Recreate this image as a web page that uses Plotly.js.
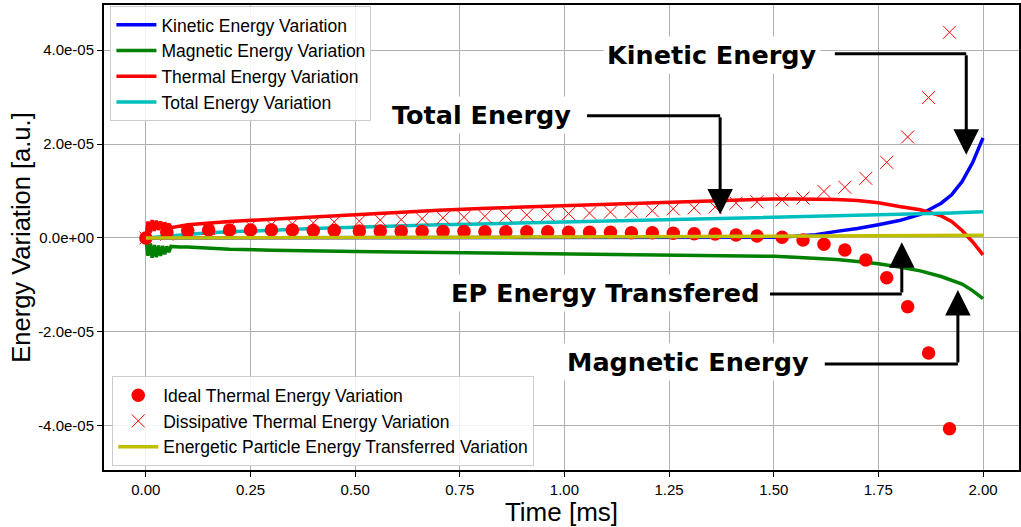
<!DOCTYPE html>
<html>
<head>
<meta charset="utf-8">
<script src="https://cdn.plot.ly/plotly-3.0.1.min.js"></script>
<style>html,body{margin:0;padding:0;background:#fff;}#chart{width:1021px;height:527px;}</style>
</head>
<body>
<div id="chart"></div>
<script>
// ---- data (energy variation, a.u.; time in ms) ----
const timeLine = [0, 0.005, 0.01, 0.015, 0.02, 0.025, 0.03, 0.035, 0.04, 0.045, 0.05, 0.055, 0.06, 0.07, 0.08,
  0.1, 0.15, 0.2, 0.3, 0.4, 0.5, 0.6, 0.7, 0.8, 0.9, 1.0, 1.1, 1.2, 1.3, 1.4, 1.5, 1.55, 1.6, 1.65, 1.7, 1.75,
  1.8, 1.85, 1.9, 1.925, 1.95, 1.975, 2.0];

const kinetic = [0, 0, 0, 0, 0, 0, 0, 0, 0, 0, 0, 0, 0, 0, 0,
  0, 0, 0, 0, 0, 0, 0, 0, 0, 0, 0, 0, 0, 0.001e-5, 0.005e-5, 0.015e-5, 0.035e-5, 0.07e-5, 0.14e-5, 0.2e-5, 0.28e-5,
  0.37e-5, 0.5e-5, 0.74e-5, 0.92e-5, 1.2e-5, 1.6e-5, 2.13e-5];

const magnetic = [0, -0.38e-5, -0.12e-5, -0.42e-5, -0.15e-5, -0.41e-5, -0.16e-5, -0.38e-5, -0.17e-5, -0.35e-5, -0.18e-5, -0.3e-5, -0.18e-5, -0.19e-5, -0.19e-5,
  -0.19e-5, -0.22e-5, -0.24e-5, -0.26e-5, -0.28e-5, -0.29e-5, -0.3e-5, -0.31e-5, -0.31e-5, -0.32e-5, -0.33e-5, -0.34e-5, -0.35e-5, -0.36e-5, -0.37e-5, -0.39e-5, -0.41e-5, -0.43e-5, -0.46e-5, -0.5e-5, -0.55e-5,
  -0.62e-5, -0.7e-5, -0.82e-5, -0.9e-5, -0.98e-5, -1.12e-5, -1.29e-5];

const thermal = [0, 0.35e-5, 0.12e-5, 0.38e-5, 0.15e-5, 0.37e-5, 0.17e-5, 0.35e-5, 0.19e-5, 0.33e-5, 0.21e-5, 0.3e-5, 0.22e-5, 0.24e-5, 0.25e-5,
  0.28e-5, 0.32e-5, 0.35e-5, 0.4e-5, 0.45e-5, 0.5e-5, 0.55e-5, 0.59e-5, 0.63e-5, 0.66e-5, 0.69e-5, 0.72e-5, 0.75e-5, 0.78e-5, 0.81e-5, 0.83e-5, 0.83e-5, 0.83e-5, 0.82e-5, 0.8e-5, 0.75e-5,
  0.67e-5, 0.6e-5, 0.47e-5, 0.35e-5, 0.16e-5, -0.08e-5, -0.36e-5];

const total = [0, 0.004e-5, 0.008e-5, 0.012e-5, 0.016e-5, 0.02e-5, 0.024e-5, 0.028e-5, 0.032e-5, 0.036e-5, 0.04e-5, 0.044e-5, 0.048e-5, 0.056e-5, 0.064e-5,
  0.08e-5, 0.11e-5, 0.13e-5, 0.17e-5, 0.2e-5, 0.23e-5, 0.26e-5, 0.28e-5, 0.3e-5, 0.32e-5, 0.34e-5, 0.35e-5, 0.37e-5, 0.39e-5, 0.41e-5, 0.43e-5, 0.44e-5, 0.45e-5, 0.46e-5, 0.47e-5, 0.48e-5,
  0.49e-5, 0.5e-5, 0.52e-5, 0.53e-5, 0.54e-5, 0.55e-5, 0.56e-5];

const epTransferred = [0, 0, 0, 0, 0, 0, 0, 0, 0, 0, 0, 0, 0, 0, 0,
  0, 0.002e-5, 0.004e-5, 0.006e-5, 0.008e-5, 0.01e-5, 0.012e-5, 0.014e-5, 0.016e-5, 0.018e-5, 0.02e-5, 0.023e-5, 0.026e-5, 0.029e-5, 0.032e-5, 0.035e-5, 0.037e-5, 0.039e-5, 0.041e-5, 0.043e-5, 0.046e-5,
  0.049e-5, 0.052e-5, 0.055e-5, 0.056e-5, 0.057e-5, 0.058e-5, 0.06e-5];

const timeMarkers = [0, 0.05, 0.10, 0.15, 0.20, 0.25, 0.30, 0.35, 0.40, 0.45, 0.51, 0.56, 0.61, 0.66, 0.71, 0.76,
  0.81, 0.86, 0.91, 0.96, 1.01, 1.06, 1.11, 1.16, 1.21, 1.26, 1.31, 1.36, 1.41, 1.46, 1.52, 1.57, 1.62, 1.67,
  1.72, 1.77, 1.82, 1.87, 1.92];

const idealThermal = [0, 0.12e-5, 0.16e-5, 0.17e-5, 0.17e-5, 0.17e-5, 0.17e-5, 0.17e-5, 0.16e-5, 0.16e-5, 0.15e-5, 0.15e-5, 0.14e-5, 0.14e-5, 0.14e-5, 0.14e-5,
  0.13e-5, 0.13e-5, 0.13e-5, 0.13e-5, 0.12e-5, 0.12e-5, 0.12e-5, 0.11e-5, 0.11e-5, 0.1e-5, 0.09e-5, 0.085e-5, 0.065e-5, 0.043e-5, 0.015e-5, -0.043e-5, -0.135e-5, -0.256e-5,
  -0.47e-5, -0.847e-5, -1.466e-5, -2.448e-5, -4.06e-5];

const dissipativeThermal = [0, 0.08e-5, 0.15e-5, 0.2e-5, 0.23e-5, 0.26e-5, 0.28e-5, 0.3e-5, 0.32e-5, 0.34e-5, 0.36e-5, 0.38e-5, 0.39e-5, 0.41e-5, 0.43e-5, 0.44e-5,
  0.46e-5, 0.47e-5, 0.49e-5, 0.5e-5, 0.52e-5, 0.53e-5, 0.55e-5, 0.57e-5, 0.58e-5, 0.62e-5, 0.64e-5, 0.66e-5, 0.74e-5, 0.77e-5, 0.81e-5, 0.85e-5, 0.99e-5, 1.08e-5,
  1.27e-5, 1.61e-5, 2.15e-5, 2.99e-5, 4.38e-5];

const xTickVals = [0, 0.25, 0.5, 0.75, 1.0, 1.25, 1.5, 1.75, 2.0];
const xTickText = ['0.00', '0.25', '0.50', '0.75', '1.00', '1.25', '1.50', '1.75', '2.00'];
const yTickVals = [-4e-5, -2e-5, 0, 2e-5, 4e-5];
const yTickText = ['-4.0e-05', '-2.0e-05', '0.0e+00', '2.0e-05', '4.0e-05'];

const seriesNames = ['Kinetic Energy Variation', 'Magnetic Energy Variation', 'Thermal Energy Variation',
  'Total Energy Variation', 'Ideal Thermal Energy Variation', 'Dissipative Thermal Energy Variation',
  'Energetic Particle Energy Transferred Variation'];

// callout labels with elbow arrows
const callouts = [
  {text: 'Kinetic Energy', tx: 1.352, ty: 3.9e-5, x0: 1.646, bx: 1.96, by: 3.92e-5, tipY: 1.77e-5},
  {text: 'Total Energy', tx: 0.803, ty: 2.62e-5, x0: 1.054, bx: 1.372, by: 2.6e-5, tipY: 0.5e-5},
  {text: 'EP Energy Transfered', tx: 1.097, ty: -1.17e-5, x0: 1.491, bx: 1.806, by: -1.193e-5, tipY: -0.09e-5},
  {text: 'Magnetic Energy', tx: 1.295, ty: -2.64e-5, x0: 1.622, bx: 1.94, by: -2.684e-5, tipY: -1.11e-5}
];

// ---- traces ----
const lw = 3.5;
const traces = [
  {x: timeLine, y: kinetic, name: seriesNames[0], mode: 'lines', line: {color: '#0000ff', width: lw}, legend: 'legend'},
  {x: timeLine, y: magnetic, name: seriesNames[1], mode: 'lines', line: {color: '#008000', width: lw}, legend: 'legend'},
  {x: timeLine, y: thermal, name: seriesNames[2], mode: 'lines', line: {color: '#ff0000', width: lw}, legend: 'legend'},
  {x: timeLine, y: total, name: seriesNames[3], mode: 'lines', line: {color: '#00bfbf', width: lw}, legend: 'legend'},
  {x: timeMarkers, y: idealThermal, name: seriesNames[4], mode: 'markers', marker: {symbol: 'circle', color: '#ff0000', size: 13.5}, legend: 'legend2'},
  {x: timeMarkers, y: dissipativeThermal, name: seriesNames[5], mode: 'markers', marker: {symbol: 'x-thin-open', color: '#ff0000', size: 13, line: {color: '#ff0000', width: 1}}, legend: 'legend2'},
  {x: timeLine, y: epTransferred, name: seriesNames[6], mode: 'lines', line: {color: '#bfbf00', width: lw}, legend: 'legend2'}
];

const shapes = [];
const annotations = [];
callouts.forEach(c => {
  shapes.push({type: 'line', xref: 'x', yref: 'y', x0: c.x0, x1: c.bx, y0: c.by, y1: c.by, line: {color: '#000', width: 3}});
  annotations.push({xref: 'x', yref: 'y', x: c.tx, y: c.ty, text: c.text, showarrow: false,
    font: {family: 'DejaVu Sans', size: 25.5, color: '#000', weight: 'bold'}, bgcolor: '#ffffff', borderpad: 3});
  annotations.push({xref: 'x', yref: 'y', axref: 'x', ayref: 'y', x: c.bx, y: c.tipY, ax: c.bx, ay: c.by, text: '',
    showarrow: true, arrowhead: 2, arrowsize: 1.7, arrowwidth: 3, arrowcolor: '#000'});
});

const axisCommon = {
  showgrid: true, gridcolor: '#b0b0b0', gridwidth: 1, zeroline: false,
  showline: true, linecolor: '#000', linewidth: 2, mirror: true,
  ticks: 'outside', ticklen: 5, tickwidth: 1, tickcolor: '#000',
  tickfont: {family: 'Liberation Sans', size: 15, color: '#000'}
};

const legendCommon = {
  bgcolor: 'rgba(255,255,255,0.85)', bordercolor: '#cccccc', borderwidth: 1,
  font: {family: 'Liberation Sans', size: 17.5, color: '#000'}, itemwidth: 40
};

const layout = {
  width: 1021, height: 527,
  margin: {l: 104, r: 2, t: 5, b: 57},
  paper_bgcolor: '#ffffff', plot_bgcolor: '#ffffff',
  showlegend: true,
  xaxis: Object.assign({}, axisCommon, {
    range: [-0.1, 2.086], tickvals: xTickVals, ticktext: xTickText,
    title: {text: 'Time [ms]', font: {family: 'Liberation Sans', size: 26, color: '#000'}, standoff: 0}
  }),
  yaxis: Object.assign({}, axisCommon, {
    range: [-4.94e-5, 4.96e-5], tickvals: yTickVals, ticktext: yTickText,
    title: {text: 'Energy Variation [a.u.]', font: {family: 'Liberation Sans', size: 25.5, color: '#000'}, standoff: 0}
  }),
  legend: Object.assign({}, legendCommon, {x: 0.007, y: 0.998, xanchor: 'left', yanchor: 'top'}),
  legend2: Object.assign({}, legendCommon, {x: 0.009, y: 0.008, xanchor: 'left', yanchor: 'bottom'}),
  shapes: shapes,
  annotations: annotations
};

Plotly.newPlot('chart', traces, layout, {displayModeBar: false, staticPlot: true});
</script>
</body>
</html>
